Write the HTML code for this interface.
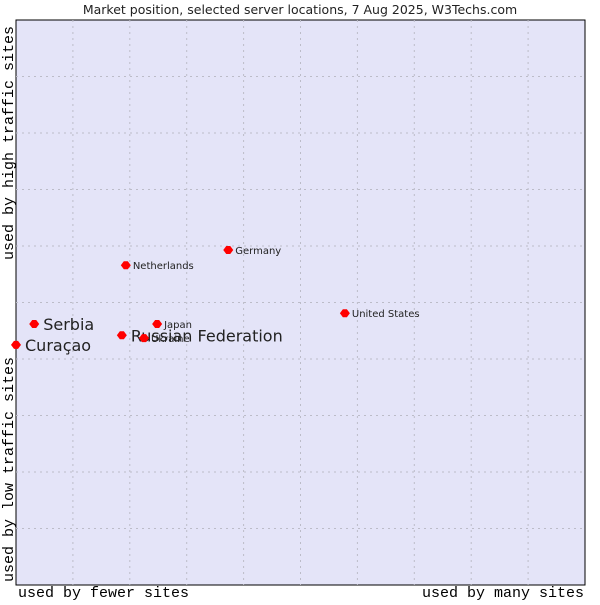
<!DOCTYPE html>
<html><head><meta charset="utf-8"><style>
body{margin:0;background:#fff;width:600px;height:600px;overflow:hidden}
text{font-family:"DejaVu Sans","Liberation Sans",sans-serif}
.mono{font-family:"Liberation Mono","DejaVu Sans Mono",monospace;font-size:15px}
</style></head><body>
<svg id="chart" width="600" height="600">
<text x="300" y="14" text-anchor="middle" font-size="12.5" fill="#222">Market position, selected server locations, 7 Aug 2025, W3Techs.com</text>
<rect x="16" y="20" width="569" height="565" fill="#e4e4f8" stroke="#000" stroke-width="1"/>
<g id="grid"></g>
<g id="pts"></g>
<text class="mono" transform="translate(13,260) rotate(-90)" fill="#000">used by high traffic sites</text>
<text class="mono" transform="translate(13,582) rotate(-90)" fill="#000">used by low traffic sites</text>
<text class="mono" x="18" y="597" fill="#000">used by fewer sites</text>
<text class="mono" x="584" y="597" text-anchor="end" fill="#000">used by many sites</text>
</svg>
<script>
const names=["Curaçao","Serbia","Russian Federation","Ukraine","Japan","Netherlands","Germany","United States"];
const xVals=[0,3.2,18.6,22.5,24.8,19.3,37.3,57.8];
const yVals=[42.5,46.2,44.2,43.7,46.2,56.6,59.3,48.1];
const bigLabel=[true,true,true,false,false,false,false,false];
const L=16,T=20,W=569,H=565;
const sx=v=>L+v/100*W, sy=v=>T+H-v/100*H;
const ns="http://www.w3.org/2000/svg";
const grid=document.getElementById('grid');
for(let i=1;i<10;i++){
 const a=document.createElementNS(ns,'line');
 
 
 a.setAttribute('x1',sx(i*10));a.setAttribute('x2',sx(i*10));a.setAttribute('y1',T);a.setAttribute('y2',T+H);
 a.setAttribute('stroke','#bcbcc8');a.setAttribute('stroke-dasharray','2,4');grid.appendChild(a);
 const b=document.createElementNS(ns,'line');
 
 
 b.setAttribute('y1',sy(i*10));b.setAttribute('y2',sy(i*10));b.setAttribute('x1',L);b.setAttribute('x2',L+W);
 b.setAttribute('stroke','#bcbcc8');b.setAttribute('stroke-dasharray','2,4');grid.appendChild(b);
}
const pts=document.getElementById('pts');
names.forEach((n,i)=>{
 const x=sx(xVals[i]),y=sy(yVals[i]);
 const d=document.createElementNS(ns,'path');
 
 
 d.setAttribute('d',`M${x-5},${y}L${x-2},${y-4}L${x+2},${y-4}L${x+5},${y}L${x+2},${y+4}L${x-2},${y+4}Z`);
 d.setAttribute('fill','#f00');pts.appendChild(d);
 const t=document.createElementNS(ns,'text');
 
 
 const big=bigLabel[i];
 t.setAttribute('x',x+(big?9:7));t.setAttribute('y',y+(big?6:4));
 t.setAttribute('font-size',big?16:10);t.setAttribute('fill','#222');
 t.textContent=n;pts.appendChild(t);
});
</script>
</body></html>
